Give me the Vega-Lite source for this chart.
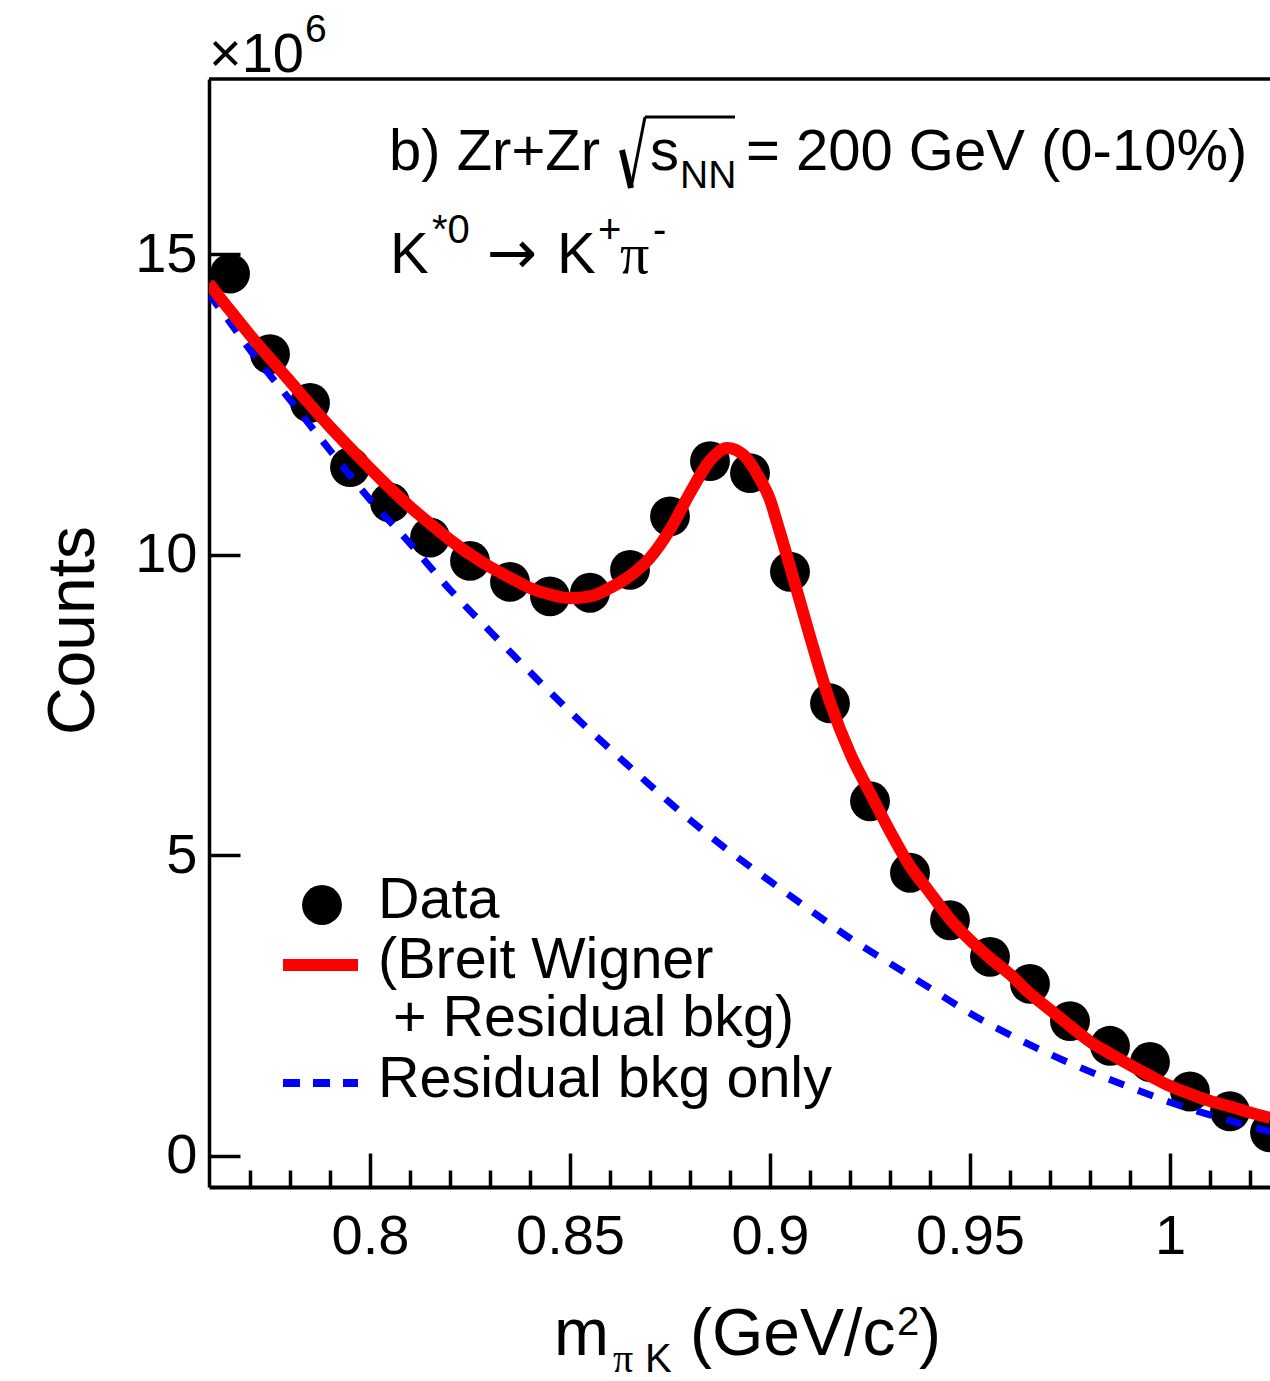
{
  "$schema": "https://vega.github.io/schema/vega-lite/v6.json",
  "width": 1061,
  "height": 1108,
  "autosize": {"type": "none"},
  "padding": {"left": 209, "top": 79, "right": 0, "bottom": 194},
  "background": "white",
  "data": {"values": [{}]},
  "config": {
    "font": "Liberation Sans",
    "view": {"stroke": null},
    "axis": {"grid": false, "labelFont": "Liberation Sans", "titleFont": "Liberation Sans", "labelColor": "black", "titleColor": "black", "domainColor": "black", "tickColor": "black"}
  },
  "datasets": {
    "points": [
      {"m": 0.765, "counts": 14.68}, {"m": 0.775, "counts": 13.34}, {"m": 0.785, "counts": 12.53},
      {"m": 0.795, "counts": 11.46}, {"m": 0.805, "counts": 10.87}, {"m": 0.815, "counts": 10.29},
      {"m": 0.825, "counts": 9.90}, {"m": 0.835, "counts": 9.55}, {"m": 0.845, "counts": 9.31},
      {"m": 0.855, "counts": 9.37}, {"m": 0.865, "counts": 9.75}, {"m": 0.875, "counts": 10.64},
      {"m": 0.885, "counts": 11.56}, {"m": 0.895, "counts": 11.36}, {"m": 0.905, "counts": 9.72},
      {"m": 0.915, "counts": 7.53}, {"m": 0.925, "counts": 5.90}, {"m": 0.935, "counts": 4.71},
      {"m": 0.945, "counts": 3.92}, {"m": 0.955, "counts": 3.31}, {"m": 0.965, "counts": 2.86},
      {"m": 0.975, "counts": 2.24}, {"m": 0.985, "counts": 1.83}, {"m": 0.995, "counts": 1.56},
      {"m": 1.005, "counts": 1.07}, {"m": 1.015, "counts": 0.74}, {"m": 1.025, "counts": 0.39}
    ],
    "fit": [
      {"m": 0.75975, "counts": 14.52}, {"m": 0.765, "counts": 14.07}, {"m": 0.770, "counts": 13.66},
      {"m": 0.775, "counts": 13.27}, {"m": 0.780, "counts": 12.89}, {"m": 0.785, "counts": 12.50},
      {"m": 0.790, "counts": 12.13}, {"m": 0.795, "counts": 11.78}, {"m": 0.800, "counts": 11.44},
      {"m": 0.805, "counts": 11.11}, {"m": 0.810, "counts": 10.80}, {"m": 0.815, "counts": 10.52},
      {"m": 0.820, "counts": 10.25}, {"m": 0.825, "counts": 10.01}, {"m": 0.830, "counts": 9.80},
      {"m": 0.835, "counts": 9.62}, {"m": 0.840, "counts": 9.45}, {"m": 0.845, "counts": 9.34},
      {"m": 0.850, "counts": 9.28}, {"m": 0.855, "counts": 9.31}, {"m": 0.860, "counts": 9.45},
      {"m": 0.865, "counts": 9.65}, {"m": 0.870, "counts": 9.95}, {"m": 0.875, "counts": 10.42},
      {"m": 0.880, "counts": 11.03}, {"m": 0.885, "counts": 11.57}, {"m": 0.8893, "counts": 11.78},
      {"m": 0.8933, "counts": 11.67}, {"m": 0.8975, "counts": 11.26}, {"m": 0.900, "counts": 10.92},
      {"m": 0.9018, "counts": 10.53}, {"m": 0.905, "counts": 9.81}, {"m": 0.910, "counts": 8.64},
      {"m": 0.915, "counts": 7.55}, {"m": 0.920, "counts": 6.70}, {"m": 0.925, "counts": 6.04},
      {"m": 0.930, "counts": 5.40}, {"m": 0.935, "counts": 4.82}, {"m": 0.940, "counts": 4.38},
      {"m": 0.945, "counts": 3.94}, {"m": 0.950, "counts": 3.59}, {"m": 0.955, "counts": 3.29},
      {"m": 0.960, "counts": 3.02}, {"m": 0.965, "counts": 2.70}, {"m": 0.970, "counts": 2.43},
      {"m": 0.975, "counts": 2.16}, {"m": 0.980, "counts": 1.90}, {"m": 0.985, "counts": 1.70},
      {"m": 0.990, "counts": 1.51}, {"m": 0.995, "counts": 1.33}, {"m": 1.000, "counts": 1.16},
      {"m": 1.005, "counts": 1.03}, {"m": 1.010, "counts": 0.91}, {"m": 1.015, "counts": 0.82},
      {"m": 1.020, "counts": 0.72}, {"m": 1.025, "counts": 0.63}
    ],
    "bkg": [
      {"m": 0.75975, "counts": 14.34}, {"m": 0.765, "counts": 13.87}, {"m": 0.770, "counts": 13.41},
      {"m": 0.780, "counts": 12.58}, {"m": 0.790, "counts": 11.74}, {"m": 0.800, "counts": 10.92},
      {"m": 0.810, "counts": 10.19}, {"m": 0.820, "counts": 9.42}, {"m": 0.830, "counts": 8.73},
      {"m": 0.840, "counts": 8.05}, {"m": 0.850, "counts": 7.39}, {"m": 0.860, "counts": 6.77},
      {"m": 0.870, "counts": 6.17}, {"m": 0.880, "counts": 5.59}, {"m": 0.890, "counts": 5.06},
      {"m": 0.900, "counts": 4.57}, {"m": 0.910, "counts": 4.09}, {"m": 0.920, "counts": 3.62},
      {"m": 0.930, "counts": 3.20}, {"m": 0.940, "counts": 2.79}, {"m": 0.950, "counts": 2.37},
      {"m": 0.960, "counts": 2.01}, {"m": 0.970, "counts": 1.69}, {"m": 0.980, "counts": 1.40},
      {"m": 0.990, "counts": 1.14}, {"m": 1.000, "counts": 0.89}, {"m": 1.010, "counts": 0.68},
      {"m": 1.020, "counts": 0.49}, {"m": 1.025, "counts": 0.40}
    ]
  },
  "layer": [
    {
      "data": {"name": "points"},
      "mark": {"type": "point", "shape": "circle", "filled": true, "size": 1590, "color": "black", "opacity": 1, "clip": true},
      "encoding": {
        "x": {
          "field": "m", "type": "quantitative",
          "scale": {"domain": [0.75975, 1.025], "nice": false, "zero": false},
          "axis": {
            "orient": "bottom", "title": null,
            "values": [0.77, 0.78, 0.79, 0.8, 0.81, 0.82, 0.83, 0.84, 0.85, 0.86, 0.87, 0.88, 0.89, 0.9, 0.91, 0.92, 0.93, 0.94, 0.95, 0.96, 0.97, 0.98, 0.99, 1.0, 1.01, 1.02],
            "domainWidth": 4, "tickWidth": 3.5,
            "tickSize": {"condition": {"test": "round(datum.value*100) % 5 === 0", "value": -34}, "value": -17},
            "labelExpr": "round(datum.value*100) % 5 === 0 ? format(datum.value, '~g') : ''",
            "labelFontSize": 56, "labelBaseline": "alphabetic", "labelPadding": 100,
            "labelOverlap": false, "labelFlush": false, "labelBound": false
          }
        },
        "y": {
          "field": "counts", "type": "quantitative",
          "scale": {"domain": [-0.52, 17.92], "nice": false, "zero": false},
          "axis": {
            "orient": "left", "values": [0, 5, 10, 15], "format": "d",
            "domainWidth": 3.5, "tickWidth": 3.5, "tickSize": -31,
            "labelFontSize": 56, "labelPadding": 43, "labelOverlap": false, "labelFlush": false,
            "title": "Counts", "titleFontSize": 66, "titleFontWeight": "normal",
            "titleAngle": 270, "titleX": -116, "titleY": 551, "titleBaseline": "alphabetic", "titleAlign": "center"
          }
        }
      }
    },
    {
      "data": {"name": "bkg"},
      "mark": {"type": "line", "color": "#0000ff", "strokeWidth": 7, "strokeDash": [16, 15], "interpolate": "monotone", "clip": true},
      "encoding": {
        "x": {"field": "m", "type": "quantitative"},
        "y": {"field": "counts", "type": "quantitative"}
      }
    },
    {
      "data": {"name": "fit"},
      "mark": {"type": "line", "color": "#ff0000", "strokeWidth": 12, "interpolate": "monotone", "clip": true},
      "encoding": {
        "x": {"field": "m", "type": "quantitative"},
        "y": {"field": "counts", "type": "quantitative"}
      }
    },
    {
      "mark": {"type": "rule", "color": "black", "strokeWidth": 3.5},
      "encoding": {"y": {"datum": 17.92}}
    },
    {
      "mark": {"type": "text", "text": "×10", "fontSize": 56, "align": "left", "baseline": "alphabetic", "color": "black"},
      "encoding": {"x": {"datum": 0.75975}, "y": {"datum": 18.0365}}
    },
    {
      "mark": {"type": "text", "text": "6", "fontSize": 39, "align": "left", "baseline": "alphabetic", "color": "black"},
      "encoding": {"x": {"datum": 0.78375}, "y": {"datum": 18.536}}
    },
    {
      "mark": {"type": "text", "text": "b) Zr+Zr", "fontSize": 58, "align": "left", "baseline": "alphabetic", "color": "black"},
      "encoding": {"x": {"datum": 0.80475}, "y": {"datum": 16.406}}
    },
    {
      "mark": {"type": "rule", "color": "black", "strokeWidth": 6},
      "encoding": {"x": {"datum": 0.86300}, "y": {"datum": 16.738}, "x2": {"datum": 0.86525}, "y2": {"datum": 16.106}}
    },
    {
      "mark": {"type": "rule", "color": "black", "strokeWidth": 3},
      "encoding": {"x": {"datum": 0.86525}, "y": {"datum": 16.106}, "x2": {"datum": 0.86875}, "y2": {"datum": 17.288}}
    },
    {
      "mark": {"type": "rule", "color": "black", "strokeWidth": 3},
      "encoding": {"x": {"datum": 0.86875}, "y": {"datum": 17.288}, "x2": {"datum": 0.89125}}
    },
    {
      "mark": {"type": "text", "text": "s", "fontSize": 58, "align": "left", "baseline": "alphabetic", "color": "black"},
      "encoding": {"x": {"datum": 0.86999}, "y": {"datum": 16.406}}
    },
    {
      "mark": {"type": "text", "text": "NN", "fontSize": 39, "align": "left", "baseline": "alphabetic", "color": "black"},
      "encoding": {"x": {"datum": 0.87750}, "y": {"datum": 16.106}}
    },
    {
      "mark": {"type": "text", "text": "= 200 GeV (0-10%)", "fontSize": 58, "align": "left", "baseline": "alphabetic", "color": "black"},
      "encoding": {"x": {"datum": 0.89400}, "y": {"datum": 16.406}}
    },
    {
      "mark": {"type": "text", "text": "K", "fontSize": 58, "align": "left", "baseline": "alphabetic", "color": "black"},
      "encoding": {"x": {"datum": 0.80500}, "y": {"datum": 14.691}}
    },
    {
      "mark": {"type": "text", "text": "*0", "fontSize": 40, "align": "left", "baseline": "alphabetic", "color": "black"},
      "encoding": {"x": {"datum": 0.81550}, "y": {"datum": 15.191}}
    },
    {
      "mark": {"type": "text", "text": "→", "font": "DejaVu Sans", "fontSize": 60, "align": "left", "baseline": "alphabetic", "color": "black"},
      "encoding": {"x": {"datum": 0.82925}, "y": {"datum": 14.691}}
    },
    {
      "mark": {"type": "text", "text": "K", "fontSize": 58, "align": "left", "baseline": "alphabetic", "color": "black"},
      "encoding": {"x": {"datum": 0.84675}, "y": {"datum": 14.691}}
    },
    {
      "mark": {"type": "text", "text": "+", "fontSize": 40, "align": "left", "baseline": "alphabetic", "color": "black"},
      "encoding": {"x": {"datum": 0.85700}, "y": {"datum": 15.191}}
    },
    {
      "mark": {"type": "text", "text": "π", "font": "Liberation Serif", "fontSize": 58, "align": "left", "baseline": "alphabetic", "color": "black"},
      "encoding": {"x": {"datum": 0.86250}, "y": {"datum": 14.691}}
    },
    {
      "mark": {"type": "text", "text": "-", "fontSize": 40, "align": "left", "baseline": "alphabetic", "color": "black"},
      "encoding": {"x": {"datum": 0.87075}, "y": {"datum": 15.191}}
    },
    {
      "mark": {"type": "point", "shape": "circle", "filled": true, "size": 1590, "color": "black", "opacity": 1},
      "encoding": {"x": {"datum": 0.78800}, "y": {"datum": 4.173}}
    },
    {
      "mark": {"type": "text", "text": "Data", "fontSize": 57.5, "align": "left", "baseline": "alphabetic", "color": "black"},
      "encoding": {"x": {"datum": 0.80200}, "y": {"datum": 3.957}}
    },
    {
      "mark": {"type": "rule", "color": "#ff0000", "strokeWidth": 12},
      "encoding": {"x": {"datum": 0.77825}, "x2": {"datum": 0.79700}, "y": {"datum": 3.175}}
    },
    {
      "mark": {"type": "text", "text": "(Breit Wigner", "fontSize": 57.5, "align": "left", "baseline": "alphabetic", "color": "black"},
      "encoding": {"x": {"datum": 0.80200}, "y": {"datum": 2.958}}
    },
    {
      "mark": {"type": "text", "text": "+ Residual bkg)", "fontSize": 57.5, "align": "left", "baseline": "alphabetic", "color": "black"},
      "encoding": {"x": {"datum": 0.80575}, "y": {"datum": 1.993}}
    },
    {
      "mark": {"type": "rule", "color": "#0000ff", "strokeWidth": 8, "strokeDash": [17, 13]},
      "encoding": {"x": {"datum": 0.77825}, "x2": {"datum": 0.79700}, "y": {"datum": 1.211}}
    },
    {
      "mark": {"type": "text", "text": "Residual bkg only", "fontSize": 57.5, "align": "left", "baseline": "alphabetic", "color": "black"},
      "encoding": {"x": {"datum": 0.80200}, "y": {"datum": 0.978}}
    },
    {
      "mark": {"type": "text", "text": "m", "fontSize": 66, "align": "left", "baseline": "alphabetic", "color": "black"},
      "encoding": {"x": {"datum": 0.84600}, "y": {"datum": -3.316}}
    },
    {
      "mark": {"type": "text", "text": "π", "font": "Liberation Serif", "fontSize": 40, "align": "left", "baseline": "alphabetic", "color": "black"},
      "encoding": {"x": {"datum": 0.86075}, "y": {"datum": -3.599}}
    },
    {
      "mark": {"type": "text", "text": "K", "fontSize": 40, "align": "left", "baseline": "alphabetic", "color": "black"},
      "encoding": {"x": {"datum": 0.86875}, "y": {"datum": -3.599}}
    },
    {
      "mark": {"type": "text", "text": "(GeV/c", "fontSize": 66, "align": "left", "baseline": "alphabetic", "color": "black"},
      "encoding": {"x": {"datum": 0.88000}, "y": {"datum": -3.316}}
    },
    {
      "mark": {"type": "text", "text": "2", "fontSize": 40, "align": "left", "baseline": "alphabetic", "color": "black"},
      "encoding": {"x": {"datum": 0.93175}, "y": {"datum": -2.983}}
    },
    {
      "mark": {"type": "text", "text": ")", "fontSize": 66, "align": "left", "baseline": "alphabetic", "color": "black"},
      "encoding": {"x": {"datum": 0.93725}, "y": {"datum": -3.316}}
    }
  ]
}
